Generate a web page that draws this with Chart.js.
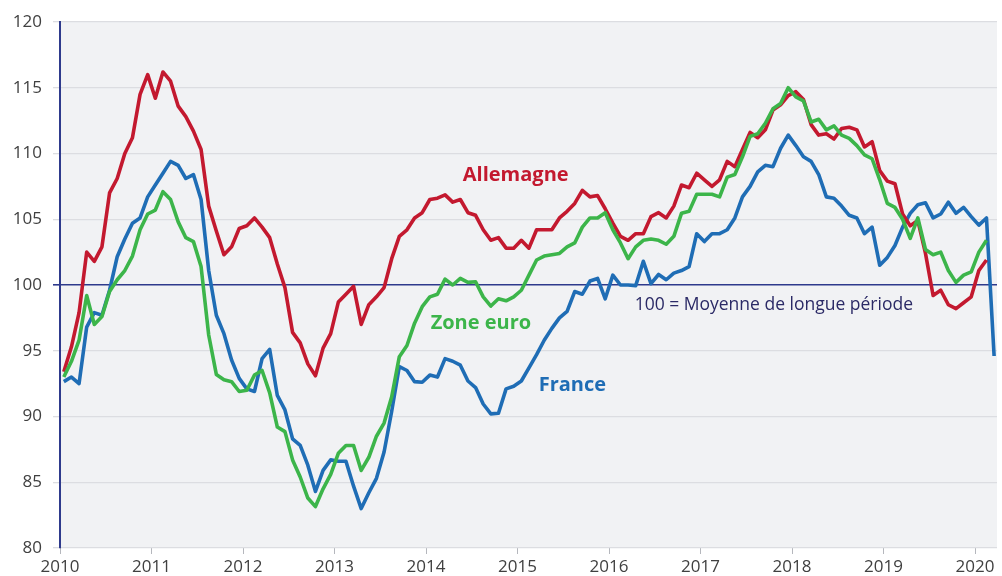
<!DOCTYPE html>
<html>
<head>
<meta charset="utf-8">
<script src="https://cdn.jsdelivr.net/npm/chart.js@4/dist/chart.umd.min.js"></script>
<style>
  html, body { margin: 0; padding: 0; background: #fff; }
  #wrap { width: 1002px; height: 576px; position: relative; }
</style>
</head>
<body>
<div id="wrap"><canvas id="chart"></canvas></div>
<script>
// mois de janvier 2010 à mars 2020
const months = [];
for (let y = 2010; y <= 2020; y++) {
    for (let m = 1; m <= 12; m++) {
        if (y === 2020 && m > 3) break;
        months.push(y + '-' + String(m).padStart(2, '0'));
    }
}

const yearTicks = [2010, 2011, 2012, 2013, 2014, 2015, 2016, 2017, 2018, 2019, 2020];
const valueTicks = [80, 85, 90, 95, 100, 105, 110, 115, 120];

const allemagne = [
    93.4, 95.3, 97.9, 102.5, 101.8, 102.9, 107.0, 108.1, 110.0, 111.2, 114.5, 116.0,
    114.2, 116.2, 115.5, 113.6, 112.8, 111.7, 110.3, 106.0, 104.1, 102.3, 102.9, 104.3,
    104.5, 105.1, 104.4, 103.6, 101.6, 99.8, 96.4, 95.6, 94.0, 93.1, 95.2, 96.3,
    98.7, 99.3, 99.9, 97.0, 98.5, 99.1, 99.8, 102.0, 103.7, 104.2, 105.1, 105.5,
    106.5, 106.6, 106.85, 106.3, 106.5, 105.5, 105.3, 104.2, 103.4, 103.6, 102.8, 102.8,
    103.4, 102.8, 104.2, 104.2, 104.2, 105.1, 105.6, 106.2, 107.2, 106.7, 106.8, 105.8,
    104.7, 103.7, 103.4, 103.9, 103.9, 105.2, 105.5, 105.1, 106.0, 107.6, 107.4, 108.5,
    108.0, 107.5, 108.0, 109.4, 109.0, 110.3, 111.6, 111.2, 111.8, 113.3, 113.7, 114.4,
    114.7, 114.1, 112.2, 111.4, 111.5, 111.1, 111.9, 112.0, 111.8, 110.5, 110.9, 108.7,
    107.9, 107.7, 105.4, 104.5, 104.9, 102.4, 99.2, 99.6, 98.5, 98.2, 98.65, 99.1,
    101.1, 101.9, null
];

const zoneEuro = [
    93.0, 94.2, 95.8, 99.2, 97.0, 97.6, 99.5, 100.4, 101.1, 102.2, 104.2, 105.4,
    105.7, 107.1, 106.5, 104.8, 103.6, 103.3, 101.4, 96.2, 93.2, 92.8, 92.65, 91.9,
    92.0, 93.15, 93.5, 91.8, 89.2, 88.85, 86.7, 85.4, 83.8, 83.15, 84.5, 85.6,
    87.2, 87.8, 87.8, 85.9, 86.9, 88.5, 89.5, 91.5, 94.55, 95.4, 97.1, 98.35,
    99.1, 99.3, 100.45, 100.0, 100.5, 100.2, 100.25, 99.1, 98.4, 98.95, 98.8, 99.1,
    99.6, 100.75, 101.9, 102.2, 102.3, 102.4, 102.9, 103.2, 104.4, 105.1, 105.1, 105.5,
    104.2, 103.2, 102.0, 102.9, 103.4, 103.5, 103.4, 103.1, 103.7, 105.45, 105.6, 106.9,
    106.9, 106.9, 106.7, 108.2, 108.4, 109.75, 111.3, 111.5, 112.3, 113.4, 113.8, 115.0,
    114.3, 114.0, 112.4, 112.6, 111.8, 112.1, 111.4, 111.15, 110.6, 109.9, 109.6, 108.0,
    106.2, 105.9, 105.0, 103.55, 105.1, 102.7, 102.3, 102.5, 101.1, 100.2, 100.75, 101.0,
    102.5, 103.4, null
];

const france = [
    92.65, 93.0, 92.5, 96.8, 97.9, 97.7, 99.6, 102.15, 103.5, 104.7, 105.1, 106.7,
    107.6, 108.5, 109.4, 109.1, 108.1, 108.4, 106.5, 101.1, 97.7, 96.3, 94.3, 92.9,
    92.1, 91.9, 94.4, 95.1, 91.6, 90.5, 88.3, 87.8, 86.3, 84.3, 85.9, 86.7,
    86.6, 86.6, 84.7, 83.0, 84.2, 85.3, 87.3, 90.4, 93.8, 93.5, 92.65, 92.6,
    93.15, 93.0, 94.4, 94.2, 93.9, 92.7, 92.2, 90.95, 90.2, 90.25, 92.1, 92.3,
    92.7, 93.7, 94.7, 95.8, 96.7, 97.5, 98.0, 99.5, 99.3, 100.3, 100.5, 98.95,
    100.75, 100.0, 100.0, 99.95, 101.8, 100.1, 100.8, 100.4, 100.9, 101.1, 101.4, 103.9,
    103.3, 103.9, 103.9, 104.2, 105.1, 106.7, 107.5, 108.6, 109.1, 109.0, 110.4, 111.4,
    110.6, 109.75, 109.4, 108.4, 106.7, 106.6, 106.0, 105.3, 105.1, 103.9, 104.4, 101.5,
    102.1, 103.0, 104.4, 105.45, 106.1, 106.25, 105.1, 105.4, 106.3, 105.45, 105.9, 105.2,
    104.55, 105.1, 94.6
];

// étiquettes posées en coordonnées des données
const seriesLabels = [
    { text: 'Allemagne', x: 2014.98, y: 108.35, color: '#c3192f', bold: true, align: 'center' },
    { text: 'Zone euro', x: 2014.6, y: 97.1, color: '#3cb54a', bold: true, align: 'center' },
    { text: 'France', x: 2015.6, y: 92.4, color: '#1f6db5', bold: true, align: 'center' },
    { text: '100 = Moyenne de longue période', x: 2016.28, y: 98.5, color: '#2b2a66', bold: false, align: 'left' }
];

const RED = '#c3192f';
const GREEN = '#3cb54a';
const BLUE = '#1f6db5';
const NAVY = '#2e3a8c';
const FONT = "'Open Sans', 'DejaVu Sans', sans-serif";

function monthToX(label) {
    const [y, m] = label.split('-').map(Number);
    return y + (m - 0.5) / 12;
}

function toPoints(values) {
    return months.map((mo, i) => ({ x: monthToX(mo), y: values[i] }));
}

const plotBackground = {
    id: 'plotBackground',
    beforeDraw(chart) {
        const { ctx, chartArea } = chart;
        ctx.save();
        ctx.fillStyle = '#f1f2f4';
        ctx.fillRect(chartArea.left, chartArea.top, chartArea.right - chartArea.left, chartArea.bottom - chartArea.top);
        ctx.restore();
    }
};

const textLabels = {
    id: 'textLabels',
    afterDatasetsDraw(chart) {
        const { ctx, scales } = chart;
        ctx.save();
        ctx.textBaseline = 'middle';
        for (const l of seriesLabels) {
            ctx.font = (l.bold ? 'bold 20px ' : '17.5px ') + FONT;
            ctx.fillStyle = l.color;
            ctx.textAlign = l.align;
            ctx.fillText(l.text, scales.x.getPixelForValue(l.x), scales.y.getPixelForValue(l.y));
        }
        ctx.restore();
    }
};

new Chart(document.getElementById('chart'), {
    type: 'line',
    data: {
        datasets: [
            { label: 'Zone euro', data: toPoints(zoneEuro), borderColor: GREEN },
            { label: 'Allemagne', data: toPoints(allemagne), borderColor: RED },
            { label: 'France', data: toPoints(france), borderColor: BLUE }
        ]
    },
    options: {
        responsive: true,
        maintainAspectRatio: false,
        animation: false,
        datasets: {
            line: {
                borderWidth: 3.6,
                pointRadius: 0,
                tension: 0,
                fill: false,
                borderJoinStyle: 'round',
                spanGaps: false
            }
        },
        layout: { padding: { top: 22, right: 5, left: 0, bottom: 0 } },
        plugins: {
            legend: { display: false },
            tooltip: { enabled: false }
        },
        scales: {
            x: {
                type: 'linear',
                min: 2010,
                max: 2020.24,
                afterFit(scale) { scale.height = 28; },
                afterBuildTicks(scale) { scale.ticks = yearTicks.map(v => ({ value: v })); },
                ticks: {
                    color: '#404040',
                    font: { family: FONT, size: 17 },
                    padding: 3,
                    maxRotation: 0,
                    autoSkip: false,
                    callback: v => String(v)
                },
                grid: {
                    drawOnChartArea: false,
                    drawTicks: true,
                    tickLength: 6,
                    color: '#b5b7bd',
                    lineWidth: 1
                },
                border: { display: false }
            },
            y: {
                min: 80,
                max: 120,
                afterFit(scale) { scale.width = 60; },
                afterBuildTicks(scale) { scale.ticks = valueTicks.map(v => ({ value: v })); },
                ticks: {
                    color: '#404040',
                    font: { family: FONT, size: 17 },
                    padding: 11,
                    autoSkip: false
                },
                grid: {
                    tickLength: 7,
                    color: ctx => ctx.tick && ctx.tick.value === 100 ? NAVY : '#dcdde1',
                    lineWidth: ctx => ctx.tick && ctx.tick.value === 100 ? 1.6 : 1.3
                },
                border: { display: true, color: NAVY, width: 2 }
            }
        }
    },
    plugins: [plotBackground, textLabels]
});
</script>
</body>
</html>
